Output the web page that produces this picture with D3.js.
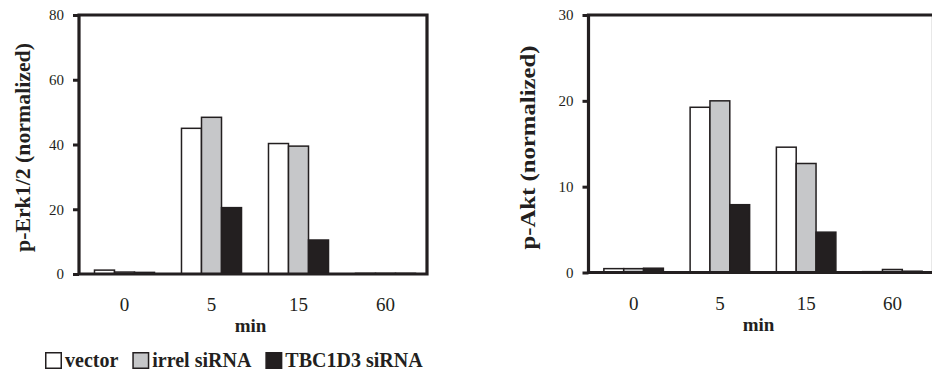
<!DOCTYPE html>
<html>
<head>
<meta charset="utf-8">
<script src="https://cdn.jsdelivr.net/npm/d3@7"></script>
<style>
  body { margin: 0; background: #fff; }
  svg { display: block; font-family: "Liberation Serif", "Times New Roman", serif; }
</style>
</head>
<body>
<div id="chart"></div>
<script>
// time points and series
const minutes = ["0", "5", "15", "60"];
const series = ["vector", "irrel siRNA", "TBC1D3 siRNA"];
const colors = ["#ffffff", "#c6c7c9", "#231f20"];

// values
const erkValues = [
    [1.2, 45.0, 40.3, 0.2],   // vector
    [0.6, 48.4, 39.5, 0.2],   // irrel siRNA
    [0.5, 20.5, 10.5, 0.2]    // TBC1D3 siRNA
];
const aktValues = [
    [0.45, 19.25, 14.6, 0.1],
    [0.45, 20.0, 12.7, 0.35],
    [0.5, 7.9, 4.7, 0.15]
];
const erkTicks = [0, 20, 40, 60, 80];
const aktTicks = [0, 10, 20, 30];

const width = 932, height = 371;

const svg = d3.select("#chart").append("svg")
    .attr("width", width)
    .attr("height", height);

function drawPanel(opts) {
    const { left, top, bottom, plotWidth, yMax, ticks, values, label, labelX, labelLen } = opts;

    const g = svg.append("g");

    const x0 = d3.scaleBand()
        .domain(minutes)
        .range([left + 2, left + 2 + plotWidth])
        .paddingInner(0.31)
        .paddingOuter(0.155);

    const x1 = d3.scaleBand()
        .domain(series)
        .range([0, x0.bandwidth()]);

    const y = d3.scaleLinear()
        .domain([0, yMax])
        .range([bottom, top]);

    // bars
    series.forEach((s, si) => {
        g.selectAll(null)
            .data(values[si].map((v, i) => ({ m: minutes[i], v: v })))
            .enter()
            .append("rect")
            .attr("x", d => x0(d.m) + x1(s))
            .attr("y", d => y(d.v))
            .attr("width", x1.bandwidth())
            .attr("height", d => y(0) - y(d.v))
            .attr("fill", colors[si])
            .attr("stroke", "#231f20")
            .attr("stroke-width", 1.5);
    });

    // frame
    const right = left + plotWidth;
    g.append("path")
        .attr("d", `M${left},${bottom}V${top}H${right}V${bottom}Z`)
        .attr("fill", "none")
        .attr("stroke", "#231f20")
        .attr("stroke-width", 3.2);

    // y axis
    const yAxis = g.append("g")
        .attr("transform", `translate(${left},0)`)
        .call(d3.axisLeft(y).tickValues(ticks).tickSize(6).tickPadding(9));
    yAxis.select(".domain").remove();
    yAxis.selectAll("line").attr("stroke", "#231f20").attr("stroke-width", 3);
    yAxis.selectAll("text")
        .attr("font-size", 15)
        .attr("font-family", "Liberation Serif")
        .attr("fill", "#231f20");

    // x axis labels
    const xAxis = g.append("g")
        .attr("transform", `translate(0,${bottom})`)
        .call(d3.axisBottom(x0).tickSize(0).tickPadding(24));
    xAxis.select(".domain").remove();
    xAxis.selectAll("text")
        .attr("font-size", 19)
        .attr("font-family", "Liberation Serif")
        .attr("fill", "#231f20");

    g.append("text")
        .attr("x", left + plotWidth / 2 - 2.5)
        .attr("y", bottom + 58)
        .attr("text-anchor", "middle")
        .attr("font-size", 19)
        .attr("font-weight", "bold")
        .attr("fill", "#231f20")
        .text("min");

    g.append("text")
        .attr("transform", `translate(${labelX},147.5) rotate(-90)`)
        .attr("text-anchor", "middle")
        .attr("font-size", 21)
        .attr("font-weight", "bold")
        .attr("fill", "#231f20")
        .attr("textLength", labelLen)
        .attr("lengthAdjust", "spacingAndGlyphs")
        .text(label);
}

drawPanel({
    left: 79, top: 15, bottom: 274, plotWidth: 348, yMax: 80,
    ticks: erkTicks, values: erkValues,
    label: "p-Erk1/2 (normalized)", labelX: 30, labelLen: 209
});

drawPanel({
    left: 588.5, top: 15, bottom: 272.5, plotWidth: 345, yMax: 30,
    ticks: aktTicks, values: aktValues,
    label: "p-Akt (normalized)", labelX: 535, labelLen: 204
});

// legend
const legend = svg.append("g").attr("transform", "translate(45,352)");
let lx = 0;
series.forEach((s, i) => {
    legend.append("rect")
        .attr("x", lx + 0.75)
        .attr("y", 0.75)
        .attr("width", 15.5)
        .attr("height", 15.5)
        .attr("fill", colors[i])
        .attr("stroke", "#231f20")
        .attr("stroke-width", 1.5);
    const t = legend.append("text")
        .attr("x", lx + 20)
        .attr("y", 15)
        .attr("font-size", 20)
        .attr("font-weight", "bold")
        .attr("fill", "#231f20")
        .text(s);
    lx += 20 + t.node().getComputedTextLength() + 14;
});
</script>
</body>
</html>
